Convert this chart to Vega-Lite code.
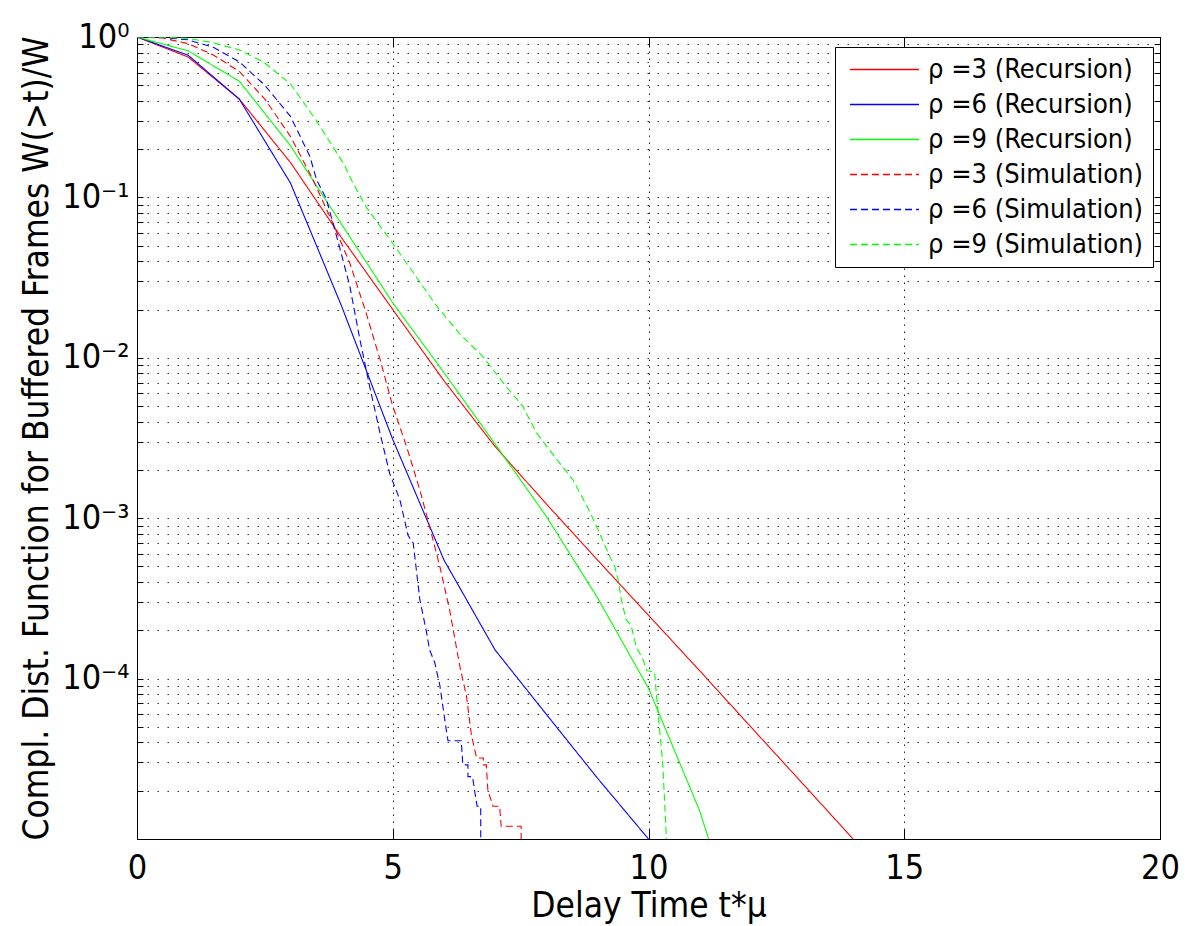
{
  "$schema": "https://vega.github.io/schema/vega-lite/v6.json",
  "width": 1023,
  "height": 802,
  "autosize": "none",
  "padding": {"left": 137, "top": 37, "right": 27, "bottom": 87},
  "background": "white",
  "config": {
    "view": {"stroke": "black", "strokeWidth": 1},
    "axis": {
      "labelFont": "DejaVu Sans Condensed",
      "titleFont": "DejaVu Sans Condensed",
      "labelColor": "black",
      "titleColor": "black",
      "domainColor": "black",
      "tickColor": "black",
      "titleFontWeight": "normal"
    },
    "legend": {
      "orient": "none",
      "legendX": 698,
      "legendY": 10,
      "strokeColor": "black",
      "fillColor": "white",
      "padding": 9,
      "symbolType": "M-1,0H5",
      "symbolSize": 529,
      "symbolStrokeWidth": 1.3,
      "symbolOffset": 4,
      "labelFont": "DejaVu Sans Condensed",
      "labelFontSize": 27,
      "labelColor": "black",
      "labelOffset": 53,
      "labelLimit": 0,
      "rowPadding": 7,
      "cornerRadius": 0
    }
  },
  "data": {
    "values": [
      {"series": "ρ =3 (Recursion)", "i": 0, "t": 0, "ccdf": 1},
      {"series": "ρ =3 (Recursion)", "i": 1, "t": 1, "ccdf": 0.75},
      {"series": "ρ =3 (Recursion)", "i": 2, "t": 2, "ccdf": 0.41},
      {"series": "ρ =3 (Recursion)", "i": 3, "t": 3, "ccdf": 0.165},
      {"series": "ρ =3 (Recursion)", "i": 4, "t": 4, "ccdf": 0.056},
      {"series": "ρ =3 (Recursion)", "i": 5, "t": 5, "ccdf": 0.02},
      {"series": "ρ =3 (Recursion)", "i": 6, "t": 6, "ccdf": 0.0072},
      {"series": "ρ =3 (Recursion)", "i": 7, "t": 7, "ccdf": 0.0028},
      {"series": "ρ =3 (Recursion)", "i": 8, "t": 8, "ccdf": 0.00123},
      {"series": "ρ =3 (Recursion)", "i": 9, "t": 9, "ccdf": 0.00055},
      {"series": "ρ =3 (Recursion)", "i": 10, "t": 10, "ccdf": 0.000248},
      {"series": "ρ =3 (Recursion)", "i": 11, "t": 11, "ccdf": 0.000112},
      {"series": "ρ =3 (Recursion)", "i": 12, "t": 12, "ccdf": 0.00005},
      {"series": "ρ =3 (Recursion)", "i": 13, "t": 13, "ccdf": 0.0000224},
      {"series": "ρ =3 (Recursion)", "i": 14, "t": 14, "ccdf": 0.00001},

      {"series": "ρ =6 (Recursion)", "i": 0, "t": 0, "ccdf": 1},
      {"series": "ρ =6 (Recursion)", "i": 1, "t": 1, "ccdf": 0.77},
      {"series": "ρ =6 (Recursion)", "i": 2, "t": 2, "ccdf": 0.41},
      {"series": "ρ =6 (Recursion)", "i": 3, "t": 3, "ccdf": 0.123},
      {"series": "ρ =6 (Recursion)", "i": 4, "t": 4, "ccdf": 0.021},
      {"series": "ρ =6 (Recursion)", "i": 5, "t": 5, "ccdf": 0.0031},
      {"series": "ρ =6 (Recursion)", "i": 6, "t": 6, "ccdf": 0.00055},
      {"series": "ρ =6 (Recursion)", "i": 7, "t": 7, "ccdf": 0.000151},
      {"series": "ρ =6 (Recursion)", "i": 8, "t": 8, "ccdf": 0.00006},
      {"series": "ρ =6 (Recursion)", "i": 9, "t": 9, "ccdf": 0.000024},
      {"series": "ρ =6 (Recursion)", "i": 10, "t": 10, "ccdf": 0.00001},

      {"series": "ρ =9 (Recursion)", "i": 0, "t": 0, "ccdf": 1},
      {"series": "ρ =9 (Recursion)", "i": 1, "t": 1, "ccdf": 0.82},
      {"series": "ρ =9 (Recursion)", "i": 2, "t": 2, "ccdf": 0.53},
      {"series": "ρ =9 (Recursion)", "i": 3, "t": 3, "ccdf": 0.21},
      {"series": "ρ =9 (Recursion)", "i": 4, "t": 4, "ccdf": 0.068},
      {"series": "ρ =9 (Recursion)", "i": 5, "t": 5, "ccdf": 0.022},
      {"series": "ρ =9 (Recursion)", "i": 6, "t": 6, "ccdf": 0.0081},
      {"series": "ρ =9 (Recursion)", "i": 7, "t": 7, "ccdf": 0.0029},
      {"series": "ρ =9 (Recursion)", "i": 8, "t": 8, "ccdf": 0.00103},
      {"series": "ρ =9 (Recursion)", "i": 9, "t": 9, "ccdf": 0.00032},
      {"series": "ρ =9 (Recursion)", "i": 10, "t": 10, "ccdf": 0.000087},
      {"series": "ρ =9 (Recursion)", "i": 11, "t": 11, "ccdf": 0.000015},
      {"series": "ρ =9 (Recursion)", "i": 12, "t": 12, "ccdf": 0.0000015},

      {"series": "ρ =3 (Simulation)", "i": 0, "t": 0, "ccdf": 1},
      {"series": "ρ =3 (Simulation)", "i": 1, "t": 0.5, "ccdf": 0.985},
      {"series": "ρ =3 (Simulation)", "i": 2, "t": 1, "ccdf": 0.91},
      {"series": "ρ =3 (Simulation)", "i": 3, "t": 1.5, "ccdf": 0.77},
      {"series": "ρ =3 (Simulation)", "i": 4, "t": 2, "ccdf": 0.61},
      {"series": "ρ =3 (Simulation)", "i": 5, "t": 2.5, "ccdf": 0.41},
      {"series": "ρ =3 (Simulation)", "i": 6, "t": 3, "ccdf": 0.24},
      {"series": "ρ =3 (Simulation)", "i": 7, "t": 3.44, "ccdf": 0.129},
      {"series": "ρ =3 (Simulation)", "i": 8, "t": 3.83, "ccdf": 0.069},
      {"series": "ρ =3 (Simulation)", "i": 9, "t": 4.16, "ccdf": 0.039},
      {"series": "ρ =3 (Simulation)", "i": 10, "t": 4.48, "ccdf": 0.019},
      {"series": "ρ =3 (Simulation)", "i": 11, "t": 4.75, "ccdf": 0.0098},
      {"series": "ρ =3 (Simulation)", "i": 12, "t": 5.0, "ccdf": 0.005},
      {"series": "ρ =3 (Simulation)", "i": 13, "t": 5.27, "ccdf": 0.0028},
      {"series": "ρ =3 (Simulation)", "i": 14, "t": 5.53, "ccdf": 0.0015},
      {"series": "ρ =3 (Simulation)", "i": 15, "t": 5.72, "ccdf": 0.00089},
      {"series": "ρ =3 (Simulation)", "i": 16, "t": 5.92, "ccdf": 0.0005},
      {"series": "ρ =3 (Simulation)", "i": 17, "t": 6.11, "ccdf": 0.00027},
      {"series": "ρ =3 (Simulation)", "i": 18, "t": 6.31, "ccdf": 0.00012},
      {"series": "ρ =3 (Simulation)", "i": 19, "t": 6.44, "ccdf": 0.000078},
      {"series": "ρ =3 (Simulation)", "i": 20, "t": 6.54, "ccdf": 0.000044},
      {"series": "ρ =3 (Simulation)", "i": 21, "t": 6.64, "ccdf": 0.000032},
      {"series": "ρ =3 (Simulation)", "i": 22, "t": 6.77, "ccdf": 0.000032},
      {"series": "ρ =3 (Simulation)", "i": 23, "t": 6.77, "ccdf": 0.000029},
      {"series": "ρ =3 (Simulation)", "i": 24, "t": 6.83, "ccdf": 0.000029},
      {"series": "ρ =3 (Simulation)", "i": 25, "t": 6.86, "ccdf": 0.00002},
      {"series": "ρ =3 (Simulation)", "i": 26, "t": 6.96, "ccdf": 0.000016},
      {"series": "ρ =3 (Simulation)", "i": 27, "t": 7.09, "ccdf": 0.000016},
      {"series": "ρ =3 (Simulation)", "i": 28, "t": 7.12, "ccdf": 0.000012},
      {"series": "ρ =3 (Simulation)", "i": 29, "t": 7.51, "ccdf": 0.000012},
      {"series": "ρ =3 (Simulation)", "i": 30, "t": 7.51, "ccdf": 0.000001},

      {"series": "ρ =6 (Simulation)", "i": 0, "t": 0, "ccdf": 1},
      {"series": "ρ =6 (Simulation)", "i": 1, "t": 0.5, "ccdf": 0.993},
      {"series": "ρ =6 (Simulation)", "i": 2, "t": 1, "ccdf": 0.96},
      {"series": "ρ =6 (Simulation)", "i": 3, "t": 1.5, "ccdf": 0.86},
      {"series": "ρ =6 (Simulation)", "i": 4, "t": 2, "ccdf": 0.7},
      {"series": "ρ =6 (Simulation)", "i": 5, "t": 2.5, "ccdf": 0.5},
      {"series": "ρ =6 (Simulation)", "i": 6, "t": 3, "ccdf": 0.32},
      {"series": "ρ =6 (Simulation)", "i": 7, "t": 3.38, "ccdf": 0.18},
      {"series": "ρ =6 (Simulation)", "i": 8, "t": 3.51, "ccdf": 0.129},
      {"series": "ρ =6 (Simulation)", "i": 9, "t": 3.7, "ccdf": 0.098},
      {"series": "ρ =6 (Simulation)", "i": 10, "t": 3.96, "ccdf": 0.049},
      {"series": "ρ =6 (Simulation)", "i": 11, "t": 4.16, "ccdf": 0.028},
      {"series": "ρ =6 (Simulation)", "i": 12, "t": 4.36, "ccdf": 0.0129},
      {"series": "ρ =6 (Simulation)", "i": 13, "t": 4.55, "ccdf": 0.0066},
      {"series": "ρ =6 (Simulation)", "i": 14, "t": 4.75, "ccdf": 0.0034},
      {"series": "ρ =6 (Simulation)", "i": 15, "t": 4.94, "ccdf": 0.0019},
      {"series": "ρ =6 (Simulation)", "i": 16, "t": 5.14, "ccdf": 0.0013},
      {"series": "ρ =6 (Simulation)", "i": 17, "t": 5.3, "ccdf": 0.00078},
      {"series": "ρ =6 (Simulation)", "i": 18, "t": 5.4, "ccdf": 0.0007},
      {"series": "ρ =6 (Simulation)", "i": 19, "t": 5.53, "ccdf": 0.00031},
      {"series": "ρ =6 (Simulation)", "i": 20, "t": 5.66, "ccdf": 0.000195},
      {"series": "ρ =6 (Simulation)", "i": 21, "t": 5.72, "ccdf": 0.000151},
      {"series": "ρ =6 (Simulation)", "i": 22, "t": 5.82, "ccdf": 0.000126},
      {"series": "ρ =6 (Simulation)", "i": 23, "t": 5.92, "ccdf": 0.000091},
      {"series": "ρ =6 (Simulation)", "i": 24, "t": 6.05, "ccdf": 0.000047},
      {"series": "ρ =6 (Simulation)", "i": 25, "t": 6.08, "ccdf": 0.000041},
      {"series": "ρ =6 (Simulation)", "i": 26, "t": 6.34, "ccdf": 0.000041},
      {"series": "ρ =6 (Simulation)", "i": 27, "t": 6.37, "ccdf": 0.000029},
      {"series": "ρ =6 (Simulation)", "i": 28, "t": 6.47, "ccdf": 0.000029},
      {"series": "ρ =6 (Simulation)", "i": 29, "t": 6.47, "ccdf": 0.0000245},
      {"series": "ρ =6 (Simulation)", "i": 30, "t": 6.56, "ccdf": 0.0000245},
      {"series": "ρ =6 (Simulation)", "i": 31, "t": 6.6, "ccdf": 0.00002},
      {"series": "ρ =6 (Simulation)", "i": 32, "t": 6.65, "ccdf": 0.000016},
      {"series": "ρ =6 (Simulation)", "i": 33, "t": 6.72, "ccdf": 0.000016},
      {"series": "ρ =6 (Simulation)", "i": 34, "t": 6.72, "ccdf": 0.000001},

      {"series": "ρ =9 (Simulation)", "i": 0, "t": 0, "ccdf": 1},
      {"series": "ρ =9 (Simulation)", "i": 1, "t": 0.5, "ccdf": 0.997},
      {"series": "ρ =9 (Simulation)", "i": 2, "t": 1, "ccdf": 0.98},
      {"series": "ρ =9 (Simulation)", "i": 3, "t": 1.5, "ccdf": 0.92},
      {"series": "ρ =9 (Simulation)", "i": 4, "t": 2, "ccdf": 0.83},
      {"series": "ρ =9 (Simulation)", "i": 5, "t": 2.47, "ccdf": 0.7},
      {"series": "ρ =9 (Simulation)", "i": 6, "t": 3, "ccdf": 0.51},
      {"series": "ρ =9 (Simulation)", "i": 7, "t": 3.51, "ccdf": 0.3},
      {"series": "ρ =9 (Simulation)", "i": 8, "t": 4.04, "ccdf": 0.162},
      {"series": "ρ =9 (Simulation)", "i": 9, "t": 4.19, "ccdf": 0.129},
      {"series": "ρ =9 (Simulation)", "i": 10, "t": 4.48, "ccdf": 0.087},
      {"series": "ρ =9 (Simulation)", "i": 11, "t": 4.94, "ccdf": 0.055},
      {"series": "ρ =9 (Simulation)", "i": 12, "t": 5.4, "ccdf": 0.034},
      {"series": "ρ =9 (Simulation)", "i": 13, "t": 5.86, "ccdf": 0.021},
      {"series": "ρ =9 (Simulation)", "i": 14, "t": 6.31, "ccdf": 0.0141},
      {"series": "ρ =9 (Simulation)", "i": 15, "t": 6.76, "ccdf": 0.0102},
      {"series": "ρ =9 (Simulation)", "i": 16, "t": 7.22, "ccdf": 0.0066},
      {"series": "ρ =9 (Simulation)", "i": 17, "t": 7.54, "ccdf": 0.005},
      {"series": "ρ =9 (Simulation)", "i": 18, "t": 7.81, "ccdf": 0.0034},
      {"series": "ρ =9 (Simulation)", "i": 19, "t": 8.2, "ccdf": 0.00234},
      {"series": "ρ =9 (Simulation)", "i": 20, "t": 8.52, "ccdf": 0.00174},
      {"series": "ρ =9 (Simulation)", "i": 21, "t": 8.72, "ccdf": 0.00132},
      {"series": "ρ =9 (Simulation)", "i": 22, "t": 8.85, "ccdf": 0.0011},
      {"series": "ρ =9 (Simulation)", "i": 23, "t": 9.04, "ccdf": 0.00081},
      {"series": "ρ =9 (Simulation)", "i": 24, "t": 9.24, "ccdf": 0.00058},
      {"series": "ρ =9 (Simulation)", "i": 25, "t": 9.34, "ccdf": 0.0005},
      {"series": "ρ =9 (Simulation)", "i": 26, "t": 9.4, "ccdf": 0.00042},
      {"series": "ρ =9 (Simulation)", "i": 27, "t": 9.47, "ccdf": 0.00031},
      {"series": "ρ =9 (Simulation)", "i": 28, "t": 9.56, "ccdf": 0.000234},
      {"series": "ρ =9 (Simulation)", "i": 29, "t": 9.66, "ccdf": 0.000214},
      {"series": "ρ =9 (Simulation)", "i": 30, "t": 9.76, "ccdf": 0.000158},
      {"series": "ρ =9 (Simulation)", "i": 31, "t": 9.89, "ccdf": 0.000132},
      {"series": "ρ =9 (Simulation)", "i": 32, "t": 9.97, "ccdf": 0.000112},
      {"series": "ρ =9 (Simulation)", "i": 33, "t": 10.12, "ccdf": 0.00011},
      {"series": "ρ =9 (Simulation)", "i": 34, "t": 10.15, "ccdf": 0.000083},
      {"series": "ρ =9 (Simulation)", "i": 35, "t": 10.21, "ccdf": 0.000051},
      {"series": "ρ =9 (Simulation)", "i": 36, "t": 10.28, "ccdf": 0.000029},
      {"series": "ρ =9 (Simulation)", "i": 37, "t": 10.35, "ccdf": 0.00001},
      {"series": "ρ =9 (Simulation)", "i": 38, "t": 10.36, "ccdf": 0.000001}
    ]
  },
  "layer": [
    {
      "mark": {"type": "line", "clip": true, "strokeWidth": 1.1},
      "encoding": {
        "x": {
          "field": "t", "type": "quantitative",
          "scale": {"domain": [0, 20], "nice": false, "zero": false},
          "axis": {
            "orient": "bottom",
            "title": "Delay Time t*μ",
            "values": [0, 5, 10, 15, 20],
            "grid": true, "gridDash": [1.5, 5.5], "gridColor": "#222", "gridWidth": 1,
            "tickSize": -10, "labelPadding": 22,
            "labelFontSize": 34, "titleFontSize": 35, "titlePadding": 3,
            "labelFlush": false
          }
        },
        "y": {
          "field": "ccdf", "type": "quantitative",
          "scale": {"type": "log", "domain": [0.00001, 1], "nice": false},
          "axis": {
            "orient": "left",
            "title": "Compl. Dist. Function for Buffered Frames W(>t)/W",
            "values": [0.00001, 0.00002, 0.00003, 0.00004, 0.00005, 0.00006, 0.00007, 0.00008, 0.00009,
                       0.0001, 0.0002, 0.0003, 0.0004, 0.0005, 0.0006, 0.0007, 0.0008, 0.0009,
                       0.001, 0.002, 0.003, 0.004, 0.005, 0.006, 0.007, 0.008, 0.009,
                       0.01, 0.02, 0.03, 0.04, 0.05, 0.06, 0.07, 0.08, 0.09,
                       0.1, 0.2, 0.3, 0.4, 0.5, 0.6, 0.7, 0.8, 0.9, 1],
            "labelExpr": "datum.value == 1 ? '10⁰' : datum.value == 0.1 ? '10⁻¹' : datum.value == 0.01 ? '10⁻²' : datum.value == 0.001 ? '10⁻³' : datum.value == 0.0001 ? '10⁻⁴' : ''",
            "grid": true, "gridDash": [1.5, 8.5], "gridColor": "#333", "gridWidth": 1,
            "tickSize": -6, "labelPadding": 14,
            "labelFontSize": 34, "titleFontSize": 35, "titlePadding": 7,
            "labelFlush": false, "labelOverlap": false
          }
        },
        "color": {
          "field": "series", "type": "nominal",
          "scale": {
            "domain": ["ρ =3 (Recursion)", "ρ =6 (Recursion)", "ρ =9 (Recursion)", "ρ =3 (Simulation)", "ρ =6 (Simulation)", "ρ =9 (Simulation)"],
            "range": ["#ff0000", "#0000ff", "#00ff00", "#ff0000", "#0000ff", "#00ff00"]
          },
          "legend": {
            "title": null,
            "encode": {
              "symbols": {
                "update": {
                  "stroke": {"scale": "color", "field": "value"},
                  "strokeDash": {"scale": "strokeDash", "field": "value"},
                  "opacity": {"value": 1}
                }
              }
            }
          }
        },
        "strokeDash": {
          "field": "series", "type": "nominal",
          "scale": {
            "domain": ["ρ =3 (Recursion)", "ρ =6 (Recursion)", "ρ =9 (Recursion)", "ρ =3 (Simulation)", "ρ =6 (Simulation)", "ρ =9 (Simulation)"],
            "range": [[1, 0], [1, 0], [1, 0], [7, 4], [7, 4], [7, 4]]
          },
          "legend": null
        },
        "order": {"field": "i", "type": "quantitative"}
      }
    },
    {
      "mark": {"type": "point", "opacity": 0},
      "encoding": {
        "x": {
          "field": "t", "type": "quantitative",
          "axis": {"orient": "top", "title": null, "labels": false, "values": [0, 5, 10, 15, 20], "grid": false, "tickSize": -10}
        },
        "y": {
          "field": "ccdf", "type": "quantitative",
          "axis": {
            "orient": "right", "title": null, "labels": false, "grid": false, "tickSize": -6,
            "values": [0.00001, 0.00002, 0.00003, 0.00004, 0.00005, 0.00006, 0.00007, 0.00008, 0.00009,
                       0.0001, 0.0002, 0.0003, 0.0004, 0.0005, 0.0006, 0.0007, 0.0008, 0.0009,
                       0.001, 0.002, 0.003, 0.004, 0.005, 0.006, 0.007, 0.008, 0.009,
                       0.01, 0.02, 0.03, 0.04, 0.05, 0.06, 0.07, 0.08, 0.09,
                       0.1, 0.2, 0.3, 0.4, 0.5, 0.6, 0.7, 0.8, 0.9, 1]
          }
        }
      }
    }
  ],
  "resolve": {"axis": {"x": "independent", "y": "independent"}}
}
